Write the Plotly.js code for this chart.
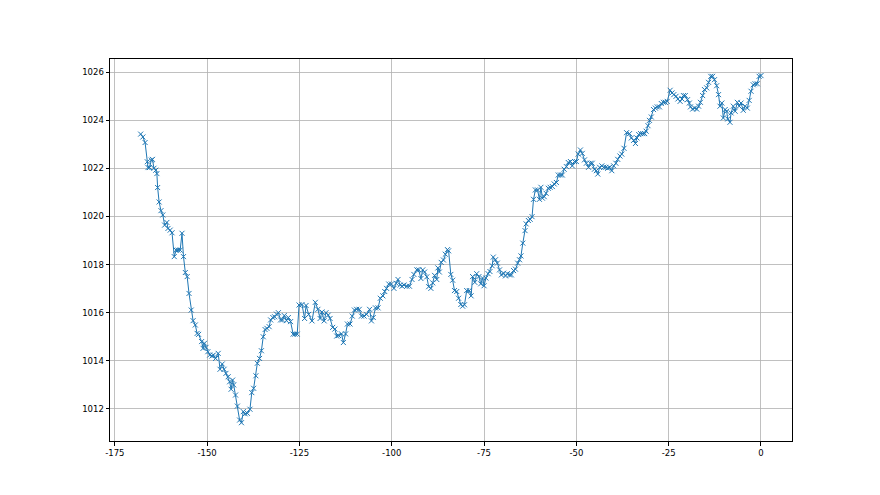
<!DOCTYPE html>
<html>
<head>
<meta charset="utf-8">
<script src="https://cdn.plot.ly/plotly-3.0.1.min.js"></script>
<style>html,body{margin:0;padding:0;background:#fff;}#chart{width:880px;height:495px;}</style>
</head>
<body>
<div id="chart"></div>
<script>
// Segment 1
const x1 = [-168.0,-167.4,-166.8,-166.2,-166.0,-165.6,-165.1,-164.8,-164.4,-163.9,
-163.6,-163.4,-163.0,-162.5,-162.0,-161.5,-160.9,-160.6,-160.0,-159.5,
-158.9,-158.4,-157.9,-157.3,-156.8,-156.4,-155.9,-155.4,-154.9,-154.3,
-153.8,-153.2,-152.7,-152.3,-151.5,-151.1,-150.7,-150.3,-149.8,-149.3,
-148.7,-148.3,-147.7,-147.0,-146.5,-145.9,-145.4,-144.9,-144.3,-143.9,
-143.5,-143.1,-142.8,-142.3,-141.8,-141.2,-140.7,-140.2,-139.7,-139.1,
-138.4,-137.9,-137.4,-136.8,-136.4,-135.8,-135.3,-134.8,-134.3,-133.8,
-133.2,-132.8,-132.2,-131.7,-131.2,-130.7,-130.1,-129.6,-129.1,-128.5,
-128.0,-127.4,-126.7,-126.2,-125.6,-125.1];
const y1 = [1023.42,1023.3,1023.07,1022.27,1022.03,1022.03,1022.34,1022.37,1022.0,1021.92,
1021.78,1021.2,1020.6,1020.24,1020.06,1019.64,1019.75,1019.5,1019.43,1019.32,
1018.33,1018.6,1018.6,1018.6,1019.3,1018.33,1017.67,1017.5,1016.8,1016.11,
1015.67,1015.49,1015.14,1015.1,1014.8,1014.52,1014.73,1014.56,1014.38,1014.24,
1014.2,1014.24,1014.1,1014.31,1013.65,1013.87,1013.65,1013.48,1013.34,1013.13,
1012.82,1013.2,1013.0,1012.58,1012.12,1011.54,1011.43,1011.89,1011.8,1011.82,
1011.99,1012.68,1012.86,1013.38,1013.9,1014.1,1014.42,1015.0,1015.3,1015.35,
1015.42,1015.7,1015.8,1015.83,1015.94,1016.0,1015.7,1015.7,1015.88,1015.67,
1015.8,1015.63,1015.11,1015.11,1015.11,1016.32];
// Segment 2
const x2 = [-124.3,-123.6,-123.2,-122.5,-121.6,-120.7,-120.0,-119.4,-118.9,-118.3,
-117.8,-117.2,-116.7,-116.0,-115.4,-114.9,-114.4,-113.6,-113.1,-112.5,
-112.0,-111.3,-110.7,-110.1,-109.5,-108.8,-108.2,-107.5,-106.8,-106.0,
-105.5,-105.0,-104.4,-103.7,-103.1,-102.4,-101.9,-101.4,-100.8,-100.1,
-99.4,-98.8,-98.3,-97.7,-97.2,-96.7,-95.9,-95.2,-94.5,-94.0,
-93.2,-92.7,-92.1,-91.6,-91.1,-90.5,-90.0,-89.4,-88.9,-88.4,
-87.8,-87.5,-87.1,-86.6,-86.0,-85.5,-84.9,-84.6,-84.0,-83.5,
-83.0,-82.4,-81.9,-81.3,-80.8];
const y2 = [1016.34,1015.76,1016.3,1015.93,1015.66,1016.43,1016.14,1015.76,1016.03,1015.66,
1016.0,1015.9,1015.76,1015.39,1015.32,1015.03,1015.05,1015.12,1014.76,1015.12,
1015.53,1015.53,1015.86,1016.11,1016.14,1016.14,1015.86,1015.86,1015.93,1016.14,
1015.66,1015.8,1016.2,1016.2,1016.6,1016.7,1016.88,1017.01,1017.19,1017.19,
1017.01,1017.22,1017.38,1017.15,1017.1,1017.15,1017.1,1017.1,1017.38,1017.59,
1017.78,1017.78,1017.42,1017.78,1017.69,1017.49,1017.08,1017.01,1017.24,1017.55,
1017.38,1017.86,1017.69,1018.09,1018.19,1018.43,1018.62,1018.57,1017.59,1017.35,
1016.92,1016.88,1016.6,1016.34,1016.27];
// Segment 3
const x3 = [-80.3,-79.7,-79.0,-78.5,-78.1,-77.5,-77.0,-76.4,-75.9,-75.4,
-75.0,-74.5,-73.9,-73.4,-72.8,-72.5,-71.9,-71.4,-70.8,-70.3,
-69.7,-69.2,-68.7,-68.1,-67.6,-67.0,-66.5,-65.9,-65.4,-65.0,
-64.5,-63.9,-63.6,-63.0,-62.5,-62.0,-61.6,-61.1,-60.5,-60.0,
-59.6,-59.2,-58.7,-58.2,-57.6,-57.1,-56.5,-56.0,-55.4,-54.9,
-54.3,-53.8,-53.3,-52.7,-52.2,-51.6,-51.1,-50.5,-50.0,-49.5,
-48.9,-48.4,-47.8,-47.3,-46.7,-46.2,-45.7,-45.1,-44.6,-44.2,
-43.7,-43.1,-42.6,-42.0,-41.5,-41.0,-40.4,-39.9,-39.3,-38.8,
-38.2,-37.7,-37.1,-36.4];
const y3 = [1016.33,1016.92,1016.92,1016.7,1017.5,1017.26,1017.62,1017.5,1017.2,1017.44,
1017.12,1017.44,1017.62,1017.71,1017.95,1018.31,1018.2,1018.06,1017.78,1017.57,
1017.64,1017.53,1017.62,1017.57,1017.57,1017.75,1017.81,1018.06,1018.2,1018.36,
1018.89,1019.41,1019.69,1019.83,1019.88,1019.99,1020.71,1021.1,1021.1,1020.71,
1021.21,1020.76,1020.82,1020.96,1021.17,1021.21,1021.24,1021.35,1021.41,1021.72,
1021.72,1021.72,1021.96,1022.07,1022.24,1022.28,1022.1,1022.28,1022.28,1022.59,
1022.76,1022.62,1022.35,1022.21,1022.04,1022.21,1022.21,1021.96,1021.9,1021.76,
1022.04,1022.1,1022.04,1022.04,1022.0,1022.04,1021.9,1022.1,1022.21,1022.37,
1022.51,1022.59,1022.83,1023.48];
// Segment 4
const x4 = [-35.6,-35.1,-34.5,-34.0,-33.6,-33.1,-32.6,-32.0,-31.5,-31.1,
-30.6,-30.2,-29.7,-29.1,-28.6,-28.1,-27.5,-27.0,-26.4,-25.9,
-25.4,-24.6,-24.1,-23.6,-23.0,-22.5,-21.9,-21.4,-21.0,-20.5,
-19.9,-19.4,-19.1,-18.5,-18.0,-17.4,-16.9,-16.4,-15.8,-15.3,
-14.7,-14.2,-13.6,-13.1,-12.6,-12.0,-11.5,-11.1,-10.6,-10.2,
-9.7,-9.3,-9.0,-8.4,-8.1,-7.5,-7.0,-6.4,-5.9,-5.4,
-4.8,-4.3,-3.7,-3.2,-2.7,-2.1,-1.6,-1.0,-0.5,0.0];
const y4 = [1023.44,1023.26,1023.16,1023.03,1023.26,1023.4,1023.44,1023.44,1023.44,1023.54,
1023.77,1023.99,1024.13,1024.44,1024.5,1024.55,1024.55,1024.69,1024.74,1024.74,
1024.78,1025.24,1025.13,1025.06,1024.99,1024.88,1024.78,1024.88,1025.02,1025.02,
1024.85,1024.71,1024.55,1024.46,1024.5,1024.46,1024.58,1024.74,1025.02,1025.27,
1025.34,1025.57,1025.82,1025.82,1025.68,1025.43,1025.06,1024.58,1024.71,1024.09,
1024.44,1024.37,1024.05,1023.91,1024.3,1024.58,1024.37,1024.74,1024.58,1024.71,
1024.41,1024.58,1024.5,1024.82,1025.2,1025.47,1025.51,1025.51,1025.82,1025.85];

const xTicks = [-175,-150,-125,-100,-75,-50,-25,0];
const yTicks = [1012,1014,1016,1018,1020,1022,1024,1026];

const xs = x1.concat(x2, x3, x4);
const ys = y1.concat(y2, y3, y4);

const axisCommon = {
  showline: true, mirror: true, linecolor: '#000', linewidth: 1,
  ticks: 'outside', ticklen: 3.5, tickwidth: 1, tickcolor: '#000',
  showgrid: true, gridcolor: '#b0b0b0', gridwidth: 0.8,
  zeroline: false, tickfont: {family: 'DejaVu Sans', size: 8.5, color: '#000'}
};

const trace = {
  x: xs, y: ys, type: 'scatter', mode: 'lines+markers',
  line: {color: '#1f77b4', width: 1},
  marker: {symbol: 'x-thin-open', size: 5, color: '#1f77b4', line: {color: '#1f77b4', width: 1}},
  hoverinfo: 'skip'
};

const layout = {
  width: 880, height: 495,
  margin: {l: 110, r: 88, t: 59, b: 54, pad: 0},
  paper_bgcolor: '#fff', plot_bgcolor: '#fff',
  showlegend: false,
  font: {family: 'DejaVu Sans', size: 8.5, color: '#000'},
  xaxis: Object.assign({}, axisCommon, {range: [-176.3, 8.4], tickvals: xTicks, ticktext: xTicks.map(String)}),
  yaxis: Object.assign({}, axisCommon, {range: [1010.67, 1026.54], tickvals: yTicks, ticktext: yTicks.map(String)})
};

Plotly.newPlot('chart', [trace], layout, {staticPlot: true, displayModeBar: false});
</script>
</body>
</html>
